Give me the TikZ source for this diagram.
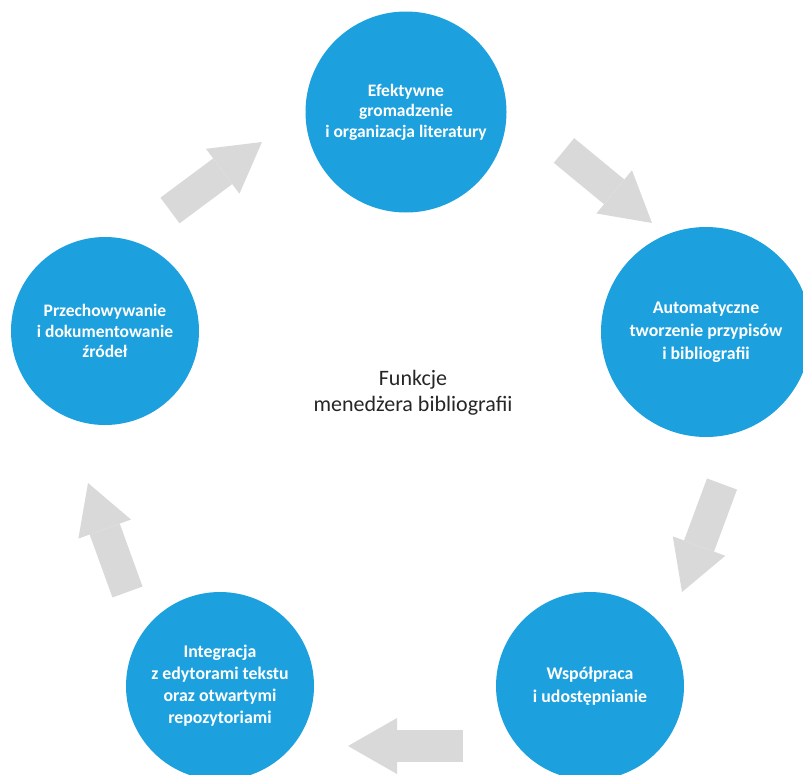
\documentclass[tikz,border=0pt]{standalone}
\usepackage{fontspec}
\setmainfont{Carlito}
\usetikzlibrary{arrows.meta}
\definecolor{cycleblue}{RGB}{29, 161, 222}
\definecolor{arrowgray}{RGB}{217, 217, 217}
\definecolor{textgray}{RGB}{38, 38, 38}
\def\rsmall{94pt}
\def\rtop{100.5pt}
\def\rbig{105pt}

\begin{document}
\begin{tikzpicture}[x=1pt, y=-1pt,
        stage/.style={circle, fill=cycleblue, text=white, align=center, inner sep=0pt,
            font=\bfseries\fontsize{17.5}{20.5}\selectfont},
        blockarrow/.style={draw=arrowgray, line width=32pt,
            -{Triangle[length=49pt, width=56pt, line width=0pt]}}]

                 \useasboundingbox (0, 0) rectangle (803, 774);
                 \clip (0, 0) rectangle (803, 774);

                 \node[stage, minimum size=2*\rtop] (gather) at (406, 112)
                 {Efektywne\\gromadzenie\\i organizacja literatury};
                 \node[stage, minimum size=2*\rbig, font=\bfseries\fontsize{17.8}{23}\selectfont] (cite) at (706, 332)
                 {Automatyczne\\tworzenie przypisów\\i bibliografii};
                 \node[stage, minimum size=2*\rsmall, font=\bfseries\fontsize{17.8}{23}\selectfont] (share) at (590, 686)
                 {Współpraca\\i udostępnianie};
                 \node[stage, minimum size=2*\rsmall, font=\bfseries\fontsize{17.8}{22}\selectfont] (integrate) at (220, 686)
                 {Integracja\\z edytorami tekstu\\oraz otwartymi\\repozytoriami};
                 \node[stage, minimum size=2*\rsmall] (store) at (105, 331)
                 {Przechowywanie\\i dokumentowanie\\źródeł};

                 \node[text=textgray, align=center, font=\fontsize{22}{26}\selectfont] (title) at (413, 393)
                 {Funkcje\\menedżera bibliografii};

                 \coordinate (s1) at (170, 210.5);
                 \coordinate (e1) at (262, 142);
                 \coordinate (s2) at (564, 150.5);
                 \coordinate (e2) at (652, 223);
                 \coordinate (s3) at (722, 484);
                 \coordinate (e3) at (682, 592);
                 \coordinate (s4) at (463, 746);
                 \coordinate (e4) at (348, 746);
                 \coordinate (s5) at (127.5, 592);
                 \coordinate (e5) at (88, 483);

                 \draw[blockarrow] (s1) -- (e1);
                 \draw[blockarrow] (s2) -- (e2);
                 \draw[blockarrow] (s3) -- (e3);
                 \draw[blockarrow] (s4) -- (e4);
                 \draw[blockarrow] (s5) -- (e5);

\end{tikzpicture}
\end{document}
